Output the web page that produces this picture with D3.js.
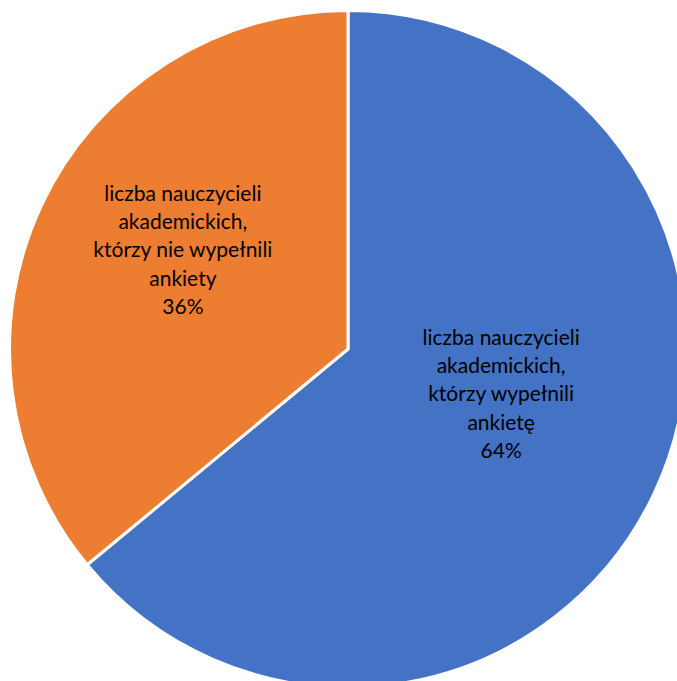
<!DOCTYPE html>
<html><head><meta charset="utf-8">
<script src="https://cdn.jsdelivr.net/npm/d3@7"></script>
<style>html,body{margin:0;padding:0;background:#fff;}</style>
</head><body>
<svg id="c" width="677" height="681"></svg>
<script>
const categories = [
  ["liczba nauczycieli", "akademickich,", "którzy wypełnili", "ankietę"],
  ["liczba nauczycieli", "akademickich,", "którzy nie wypełnili", "ankiety"]
];
const values = [64, 36];
const colors = ["#4472C4", "#ED7D31"];
const percentLabels = ["64%", "36%"];

const svg = d3.select("#c");
const cx = 348, cy = 349, R = 338.5;
const g = svg.append("g").attr("transform", `translate(${cx},${cy})`);
const pie = d3.pie().sort(null).value(d => d)(values);
const arc = d3.arc().innerRadius(0).outerRadius(R);
g.selectAll("path").data(pie).join("path")
  .attr("d", arc).attr("fill", (d,i) => colors[i])
  .attr("stroke", "#fff").attr("stroke-width", 3).attr("stroke-linejoin","round");

const labelArc = d3.arc().innerRadius(R*0.5).outerRadius(R*0.5);
const lh = 28.3;
pie.forEach((d,i) => {
  const [x,y] = labelArc.centroid(d);
  const lines = categories[i].concat([percentLabels[i]]);
  const t = g.append("text").attr("text-anchor","middle")
    .attr("font-family","Lato, 'Open Sans', sans-serif").attr("font-size", 21).attr("fill","#000");
  const y0 = y - 27 - (lines.length-1)/2*lh;
  lines.forEach((s,k) => {
    t.append("tspan").attr("x", x - (i===1?12:0)).attr("y", y0 + k*lh).attr("dy","0.35em").text(s);
  });
});
</script>
</body></html>
